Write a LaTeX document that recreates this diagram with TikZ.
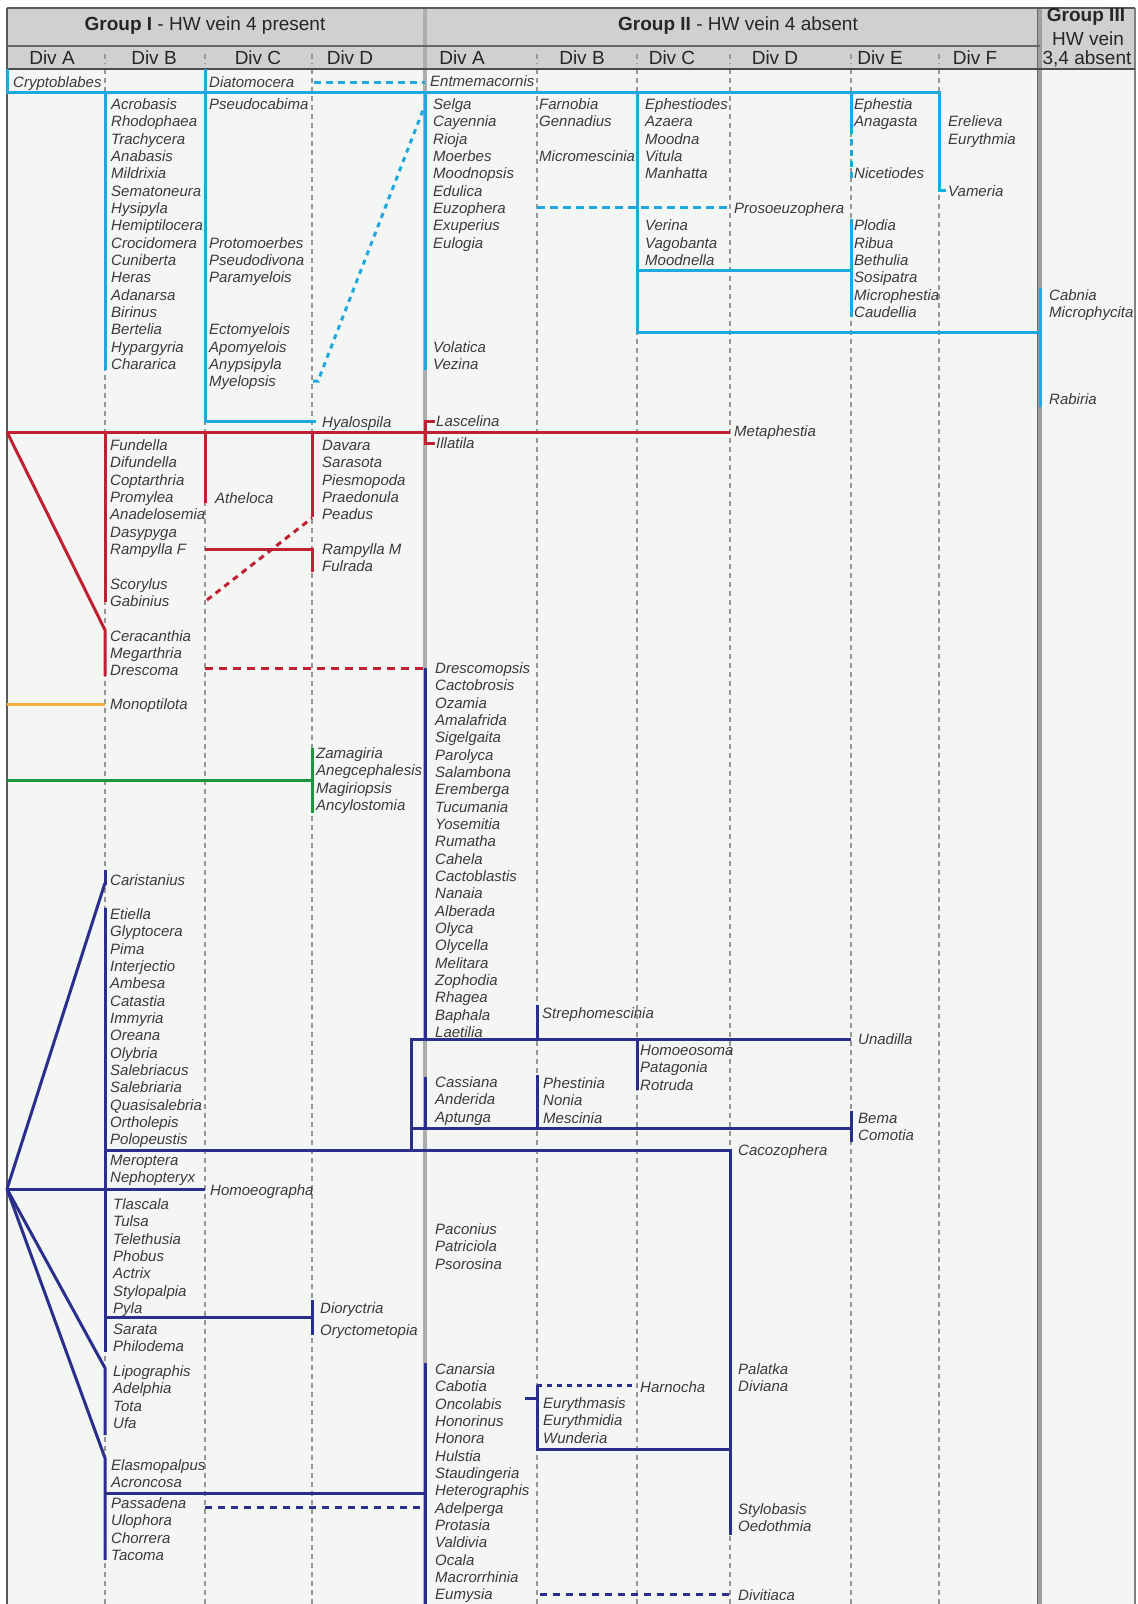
\documentclass[tikz,border=0pt]{standalone}
\usepackage{fontspec}
\setmainfont{Liberation Sans}
\usetikzlibrary{positioning}
\definecolor{skyline}{RGB}{30,168,224}
\definecolor{redline}{RGB}{192,32,52}
\definecolor{navyline}{RGB}{42,46,140}
\definecolor{orangeline}{RGB}{250,176,64}
\definecolor{greenline}{RGB}{28,150,62}
\definecolor{hdrgray}{RGB}{208,208,210}
\definecolor{bodybg}{RGB}{243,246,243}
\definecolor{guidegray}{RGB}{150,150,150}
\definecolor{txtgray}{RGB}{58,58,58}
\tikzstyle{taxon} = [anchor=west, inner sep=0pt, text height=11pt, text depth=0pt, text=txtgray, font=\fontsize{15}{17}\selectfont\itshape]
\tikzstyle{divlabel} = [inner sep=0pt, text=black!85, font=\fontsize{19}{21}\selectfont]
\tikzstyle{guide} = [guidegray, line width=1.2pt, dash pattern=on 5pt off 4pt]
\tikzstyle{branch} = [line width=3pt]
\tikzstyle{dashbranch} = [line width=3pt, dash pattern=on 8pt off 6pt]
\tikzstyle{dotbranch} = [line width=3pt, dash pattern=on 5pt off 5pt]
% one column of taxa, 17.33pt apart
\newcommand{\taxa}[4]{\foreach \nm [count=\r from 0] in {#4} \node[taxon] (#1\r) at (#2,{#3+17.33*\r}) {\nm};}

\begin{document}
\begin{tikzpicture}[x=1pt, y=-1pt]
    \useasboundingbox (0,0) rectangle (1138,1604);

    % table
    \fill[bodybg] (7,69) rectangle (1135,1604);
    \fill[hdrgray] (7,8) rectangle (1135,69);
    \foreach \x in {105,205,312,537,637,730,851,939} {
        \draw[guide] (\x,69) -- (\x,1604);
        \draw[guide] (\x,54) -- (\x,64);
    }
    \draw[line width=3.5pt, black!32] (425,8) -- (425,1604);
    \draw[line width=4pt, black!38] (1040,8) -- (1040,1604);
    \draw[line width=1pt, black!60] (1037.5,8) -- (1037.5,1604);
    \draw[line width=2pt, black!65] (7,8) -- (7,1604);
    \draw[line width=2pt, black!50] (1135,8) -- (1135,1604);
    \draw[line width=2pt, black!65] (7,8) -- (1135,8);
    \draw[line width=2pt, black!60] (7,46) -- (1040,46);
    \draw[line width=2.5pt, black!70] (7,69) -- (1135,69);

    \node[divlabel] (g1) at (205,26) {\textbf{Group I} - HW vein 4 present};
    \node[divlabel] (g2) at (738,26) {\textbf{Group II} - HW vein 4 absent};
    \node[divlabel] (g3a) at (1086,17) {\textbf{Group III}};
    \node[divlabel] (g3b) at (1088,39) {HW vein};
    \node[divlabel] (g3c) at (1087,59) {3,4 absent};
    \foreach \x/\d [count=\i] in {52/A,154/B,258/C,350/D,462/A,582/B,672/C,775/D,880/E,975/F}
        \node[divlabel] (div\i) at (\x,58) {Div \d};

    % blue
    \begin{scope}[color=skyline]
        \draw[branch] (7,69) -- (7,92) -- (939,92) -- (939,190) -- (946,190);
        \draw[branch] (205,69) -- (205,421) -- (316,421);
        \draw[branch] (105,92) -- (105,370);
        \draw[branch] (425,92) -- (425,370);
        \draw[branch] (637,92) -- (637,332) -- (1040,332);
        \draw[branch] (637,270) -- (851,270);
        \draw[branch] (851,92) -- (851,128);
        \draw[branch, dash pattern=on 6pt off 5pt] (851,128) -- (851,178);
        \draw[branch] (851,219) -- (851,317);
        \draw[branch] (1040,288) -- (1040,407);
        \draw[branch, dash pattern=on 7pt off 5pt] (314,82) -- (425,82);
        \draw[branch, dash pattern=on 8pt off 5pt] (537,207) -- (730,207);
        \draw[dotbranch] (313,381) -- (318,381) -- (425,105);
    \end{scope}

    % red
    \begin{scope}[color=redline]
        \draw[branch] (7,432) -- (730,432);
        \draw[branch] (435,421) -- (425,421) -- (425,443) -- (435,443);
        \draw[branch] (105,432) -- (105,602);
        \draw[branch] (7,432) -- (105,630) -- (105,676);
        \draw[branch] (205,432) -- (205,503);
        \draw[branch] (312,432) -- (312,517);
        \draw[branch] (205,549) -- (312,549) -- (312,572);
        \draw[branch, dash pattern=on 6pt off 5pt] (207,600) -- (312,518);
        \draw[dashbranch] (205,668) -- (425,668);
    \end{scope}

    \draw[branch, orangeline] (7,704) -- (105,704);
    \draw[branch, greenline] (7,780) -- (312,780);
    \draw[branch, greenline] (312,748) -- (312,813);

    % navy
    \begin{scope}[color=navyline]
        \coordinate (root) at (7,1189);
        \draw[branch] (425,668) -- (425,1039);
        \draw[branch] (411,1150) -- (411,1039) -- (851,1039);
        \draw[branch] (537,1005) -- (537,1039);
        \draw[branch] (637,1039) -- (637,1090);
        \draw[branch] (425,1077) -- (425,1128);
        \draw[branch] (537,1075) -- (537,1128);
        \draw[branch] (411,1128) -- (851,1128);
        \draw[branch] (851,1111) -- (851,1142);
        \draw[branch] (105,1150) -- (730,1150) -- (730,1535);
        \draw[branch] (525,1398) -- (537,1398);
        \draw[branch] (537,1385) -- (537,1449) -- (730,1449);
        \draw[dotbranch] (537,1385) -- (637,1385);
        \draw[branch] (425,1363) -- (425,1604);
        \draw[branch] (105,1493) -- (425,1493);
        \draw[branch, dash pattern=on 7pt off 6pt] (205,1507) -- (425,1507);
        \draw[branch, dash pattern=on 7pt off 6pt] (540,1594) -- (730,1594);
        \draw[branch] (root) -- (105,883);
        \draw[branch] (105,870) -- (105,885);
        \draw[branch] (105,908) -- (105,1352);
        \draw[branch] (root) -- (205,1189);
        \draw[branch] (105,1317) -- (312,1317);
        \draw[branch] (312,1300) -- (312,1335);
        \draw[branch] (root) -- (105,1368) -- (105,1435);
        \draw[branch] (root) -- (105,1458) -- (105,1560);
    \end{scope}

    % taxa, group I
    \taxa{crypt}{13}{82}{Cryptoblabes}
    \taxa{diat}{209}{82}{Diatomocera}
    \taxa{acro}{111}{104}{Acrobasis,Rhodophaea,Trachycera,Anabasis,Mildrixia,Sematoneura,Hysipyla,Hemiptilocera,Crocidomera,Cuniberta,Heras,Adanarsa,Birinus,Bertelia,Hypargyria,Chararica}
    \taxa{pscab}{209}{104}{Pseudocabima}
    \taxa{proto}{209}{242.6}{Protomoerbes,Pseudodivona,Paramyelois}
    \taxa{ecto}{209}{329.3}{Ectomyelois,Apomyelois,Anypsipyla,Myelopsis}
    \taxa{hyal}{322}{422}{Hyalospila}
    \taxa{fund}{110}{445}{Fundella,Difundella,Coptarthria,Promylea,Anadelosemia,Dasypyga,Rampylla F}
    \taxa{scor}{110}{583.6}{Scorylus,Gabinius}
    \taxa{cera}{110}{635.6}{Ceracanthia,Megarthria,Drescoma}
    \taxa{athe}{215}{498}{Atheloca}
    \taxa{dava}{322}{445}{Davara,Sarasota,Piesmopoda,Praedonula,Peadus}
    \taxa{ramp}{322}{549}{Rampylla M,Fulrada}
    \taxa{mono}{110}{704}{Monoptilota}
    \taxa{zama}{316}{753}{Zamagiria,Anegcephalesis,Magiriopsis,Ancylostomia}
    \taxa{cari}{110}{880}{Caristanius}
    \taxa{etie}{110}{914}{Etiella,Glyptocera,Pima,Interjectio,Ambesa,Catastia,Immyria,Oreana,Olybria,Salebriacus,Salebriaria,Quasisalebria,Ortholepis,Polopeustis}
    \taxa{mero}{110}{1160}{Meroptera,Nephopteryx}
    \taxa{homg}{210}{1190}{Homoeographa}
    \taxa{tlas}{113}{1204}{Tlascala,Tulsa,Telethusia,Phobus,Actrix,Stylopalpia,Pyla}
    \taxa{sara}{113}{1329}{Sarata,Philodema}
    \taxa{dior}{320}{1308}{Dioryctria}
    \taxa{oryc}{320}{1330}{Oryctometopia}
    \taxa{lipo}{113}{1371}{Lipographis,Adelphia,Tota,Ufa}
    \taxa{elas}{111}{1465}{Elasmopalpus,Acroncosa}
    \taxa{pass}{111}{1503}{Passadena,Ulophora,Chorrera,Tacoma}

    % taxa, group II and III
    \taxa{entm}{430}{81}{Entmemacornis}
    \taxa{selga}{433}{104}{Selga,Cayennia,Rioja,Moerbes,Moodnopsis,Edulica,Euzophera,Exuperius,Eulogia}
    \taxa{vola}{433}{346.6}{Volatica,Vezina}
    \taxa{farn}{539}{104}{Farnobia,Gennadius}
    \taxa{micm}{539}{156}{Micromescinia}
    \taxa{ephd}{645}{104}{Ephestiodes,Azaera,Moodna,Vitula,Manhatta}
    \taxa{veri}{645}{225.3}{Verina,Vagobanta,Moodnella}
    \taxa{proso}{734}{208}{Prosoeuzophera}
    \taxa{ephe}{854}{104}{Ephestia,Anagasta}
    \taxa{nice}{854}{173.3}{Nicetiodes}
    \taxa{plod}{854}{225.3}{Plodia,Ribua,Bethulia,Sosipatra,Microphestia,Caudellia}
    \taxa{erel}{948}{121.3}{Erelieva,Eurythmia}
    \taxa{vame}{948}{190.6}{Vameria}
    \taxa{cabn}{1049}{294.6}{Cabnia,Microphycita}
    \taxa{rabi}{1049}{398.7}{Rabiria}
    \taxa{lasc}{436}{421}{Lascelina}
    \taxa{illa}{436}{443}{Illatila}
    \taxa{meta}{734}{431}{Metaphestia}
    \taxa{dres}{435}{668}{Drescomopsis,Cactobrosis,Ozamia,Amalafrida,Sigelgaita,Parolyca,Salambona,Eremberga,Tucumania,Yosemitia,Rumatha,Cahela,Cactoblastis,Nanaia,Alberada,Olyca,Olycella,Melitara,Zophodia,Rhagea,Baphala,Laetilia}
    \taxa{stre}{542}{1013}{Strephomescinia}
    \taxa{unad}{858}{1039}{Unadilla}
    \taxa{homs}{640}{1050}{Homoeosoma,Patagonia,Rotruda}
    \taxa{cass}{435}{1082}{Cassiana,Anderida,Aptunga}
    \taxa{phes}{543}{1083}{Phestinia,Nonia,Mescinia}
    \taxa{bema}{858}{1118}{Bema,Comotia}
    \taxa{caco}{738}{1150}{Cacozophera}
    \taxa{paco}{435}{1229}{Paconius,Patriciola,Psorosina}
    \taxa{cana}{435}{1369}{Canarsia,Cabotia,Oncolabis,Honorinus,Honora,Hulstia,Staudingeria,Heterographis,Adelperga,Protasia,Valdivia,Ocala,Macrorrhinia,Eumysia}
    \taxa{harn}{640}{1387}{Harnocha}
    \taxa{euryt}{543}{1403}{Eurythmasis,Eurythmidia,Wunderia}
    \taxa{pala}{738}{1369}{Palatka,Diviana}
    \taxa{styl}{738}{1509}{Stylobasis,Oedothmia}
    \taxa{divi}{738}{1595}{Divitiaca}

\end{tikzpicture}
\end{document}
